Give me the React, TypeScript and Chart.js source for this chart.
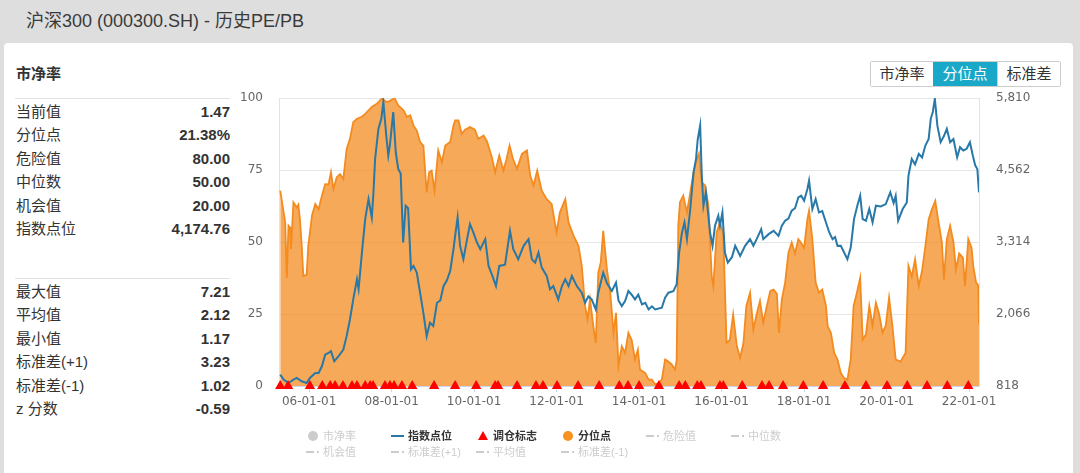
import React, { useEffect, useRef } from 'react';
import { Chart, registerables } from 'chart.js';

Chart.register(...registerables);

// ---------- axis ticks ----------
const xTickYears = [2006, 2008, 2010, 2012, 2014, 2016, 2018, 2020, 2022];
const xTickLabels = ['06-01-01', '08-01-01', '10-01-01', '12-01-01', '14-01-01', '16-01-01', '18-01-01', '20-01-01', '22-01-01'];
const leftTicks = [0, 25, 50, 75, 100];
const rightTicks = [818, 2066, 3314, 4562, 5810];
const xMin = 2005.27;
const xMax = 2022.24;

// ---------- 分位点 (percentile, %) ----------
const pctDates = [
  2005.30, 2005.42, 2005.46, 2005.50, 2005.54, 2005.56, 2005.62, 2005.70, 2005.74, 2005.78, 2005.82, 2005.86, 2005.94, 2005.98,
  2006.07, 2006.15, 2006.23, 2006.31, 2006.39, 2006.47, 2006.53, 2006.59, 2006.67, 2006.75, 2006.83, 2006.91, 2006.99,
  2007.07, 2007.16, 2007.28, 2007.36, 2007.52, 2007.64, 2007.76, 2007.88, 2007.96,
  2008.07, 2008.16, 2008.29, 2008.37, 2008.45, 2008.53, 2008.61, 2008.69, 2008.77, 2008.85, 2008.91, 2008.97,
  2009.04, 2009.13, 2009.22, 2009.30, 2009.42, 2009.50, 2009.54, 2009.62, 2009.70, 2009.78, 2009.90,
  2010.02, 2010.10, 2010.23, 2010.31, 2010.43, 2010.51, 2010.61, 2010.71, 2010.79, 2010.86, 2010.94,
  2011.04, 2011.16, 2011.28, 2011.36, 2011.44, 2011.53, 2011.64, 2011.76, 2011.88,
  2012.00, 2012.08, 2012.21, 2012.29, 2012.41, 2012.53, 2012.61, 2012.69, 2012.75, 2012.81, 2012.89, 2012.95,
  2013.01, 2013.07, 2013.13, 2013.22, 2013.30, 2013.38, 2013.44, 2013.50, 2013.58, 2013.66, 2013.74, 2013.82, 2013.90, 2013.97,
  2014.02, 2014.15, 2014.23, 2014.31, 2014.39, 2014.47, 2014.55, 2014.63, 2014.71, 2014.79, 2014.87, 2014.91, 2014.95, 2014.99,
  2015.07, 2015.16, 2015.24, 2015.32, 2015.40, 2015.45, 2015.52, 2015.60, 2015.68, 2015.76, 2015.80, 2015.88, 2015.96,
  2016.04, 2016.12, 2016.20, 2016.28, 2016.37, 2016.45, 2016.53, 2016.60, 2016.69, 2016.77, 2016.85, 2016.93,
  2017.01, 2017.10, 2017.18, 2017.26, 2017.34, 2017.39, 2017.46, 2017.54, 2017.62, 2017.70, 2017.78, 2017.86, 2017.92,
  2018.00, 2018.08, 2018.12, 2018.20, 2018.28, 2018.36, 2018.44, 2018.53, 2018.57, 2018.65, 2018.73, 2018.81, 2018.89, 2018.97,
  2019.05, 2019.13, 2019.20, 2019.28, 2019.36, 2019.42, 2019.50, 2019.58, 2019.66, 2019.74, 2019.82, 2019.90, 2019.98,
  2020.06, 2020.14, 2020.22, 2020.34, 2020.46, 2020.53, 2020.61, 2020.69, 2020.78, 2020.86, 2020.94,
  2021.02, 2021.10, 2021.18, 2021.26, 2021.34, 2021.39, 2021.46, 2021.54, 2021.62, 2021.68, 2021.76, 2021.85, 2021.90, 2021.98,
  2022.06, 2022.10, 2022.17, 2022.22, 2022.24,
];
const pctValues = [
  67.8, 56.8, 37.6, 55.7, 55, 47.5, 63.8, 62, 63, 57.5, 49, 38.2, 38.7, 48.8,
  59.2, 63.2, 61.4, 66.1, 70.1, 70, 74.2, 68.4, 72.5, 73.6, 71.9, 82.3, 85.8,
  91.6, 92.8, 93.5, 94.5, 96.9, 98, 99.8, 98.6, 99,
  100, 97.4, 95.7, 93.4, 94, 90.5, 88.7, 84.7, 83.5, 67.2, 74.2, 74.8,
  67.8, 81.8, 77.7, 83.5, 84.7, 90.5, 92.2, 92.2, 87.6, 89, 89.9,
  89, 85.8, 87, 85, 79.4, 74.2, 80, 74.8, 79, 83.5, 79,
  75.4, 80.6, 81.8, 73.1, 69.6, 74.8, 67.8, 64.9, 63.2,
  53.3, 60.3, 64.9, 56.8, 52.2, 48.7, 41.7, 27.8, 23.1, 30.1, 20.8, 15,
  39.4, 42.9, 53.9, 40.5, 32.4, 18.5, 25.4, 6.9, 13.8, 11.5, 18.5, 16, 9.2, 12.6,
  5.7, 4.5, 2.2, 2.2, 0.5, 1, 2.2, 9.2, 8.5, 7.5, 5.7, 9, 55.6, 63.8,
  66.1, 60.3, 67.2, 74.2, 78.8, 80.6, 70.7, 69.6, 62.6, 38.2, 34.7, 53.3, 56.8,
  53, 15, 16, 24.8, 13.8, 9.8, 15, 27.8, 32.4, 19.6, 25, 29.5,
  22, 28, 33, 33.5, 32, 18.5, 30.1, 35.9, 46.3, 49.8, 46, 51, 49.8,
  48, 57.9, 60.9, 51, 35.9, 32.4, 33.5, 27.8, 20.8, 18.5, 11.5, 9.2, 4.5, 2.8,
  2.2, 9.2, 27.8, 32.4, 37.6, 16.1, 18, 27.8, 21, 28.9, 25, 18.5, 21,
  30.7, 21, 9.2, 8.5, 11.5, 41.7, 38, 44, 34.7, 40, 48.7,
  57.9, 61.4, 64.3, 56.8, 49.8, 37, 51, 55.6, 50, 40.5, 46, 44.6, 34.7, 51,
  48, 41.7, 35.9, 35, 21.38,
];

// ---------- 指数点位 (index level) ----------
const idxDates = [
  2005.30, 2005.38, 2005.50, 2005.62, 2005.70, 2005.82, 2005.94,
  2006.02, 2006.15, 2006.23, 2006.31, 2006.39, 2006.47, 2006.53, 2006.61, 2006.71, 2006.83, 2006.91, 2006.99,
  2007.07, 2007.16, 2007.20, 2007.28, 2007.36, 2007.44, 2007.52, 2007.56, 2007.60, 2007.68, 2007.75, 2007.80, 2007.87, 2007.92, 2007.96,
  2008.04, 2008.10, 2008.16, 2008.22, 2008.28, 2008.34, 2008.40, 2008.47, 2008.53, 2008.61, 2008.69, 2008.77, 2008.85, 2008.93,
  2009.01, 2009.10, 2009.18, 2009.26, 2009.34, 2009.42, 2009.50, 2009.54, 2009.60, 2009.66, 2009.74, 2009.83, 2009.90, 2009.98,
  2010.07, 2010.15, 2010.27, 2010.35, 2010.43, 2010.53, 2010.61, 2010.75, 2010.87, 2010.95,
  2011.07, 2011.20, 2011.32, 2011.40, 2011.48, 2011.56, 2011.64, 2011.76, 2011.84, 2011.92,
  2012.04, 2012.13, 2012.21, 2012.29, 2012.37, 2012.49, 2012.61, 2012.69, 2012.77, 2012.85, 2012.95,
  2013.01, 2013.13, 2013.22, 2013.34, 2013.44, 2013.50, 2013.58, 2013.66, 2013.74, 2013.82, 2013.90, 2013.98,
  2014.07, 2014.15, 2014.23, 2014.31, 2014.39, 2014.55, 2014.63, 2014.71, 2014.83, 2014.91, 2014.97,
  2015.04, 2015.10, 2015.16, 2015.24, 2015.32, 2015.38, 2015.42, 2015.48, 2015.52, 2015.56, 2015.62, 2015.67, 2015.72, 2015.78, 2015.84, 2015.92, 2015.96,
  2016.02, 2016.08, 2016.15, 2016.25, 2016.33, 2016.45, 2016.57, 2016.69, 2016.77, 2016.85, 2016.96,
  2017.01, 2017.14, 2017.26, 2017.38, 2017.46, 2017.54, 2017.62, 2017.70, 2017.78, 2017.86, 2017.93,
  2018.00, 2018.08, 2018.12, 2018.20, 2018.28, 2018.36, 2018.44, 2018.53, 2018.61, 2018.69, 2018.75, 2018.81, 2018.89, 2018.97,
  2019.05, 2019.13, 2019.21, 2019.29, 2019.36, 2019.42, 2019.50, 2019.58, 2019.66, 2019.74, 2019.86, 2019.98,
  2020.09, 2020.17, 2020.22, 2020.28, 2020.39, 2020.49, 2020.53, 2020.61, 2020.69, 2020.78, 2020.86, 2020.94,
  2021.02, 2021.07, 2021.12, 2021.17, 2021.23, 2021.31, 2021.39, 2021.46, 2021.54, 2021.62, 2021.71, 2021.78, 2021.86, 2021.94,
  2022.02, 2022.09, 2022.15, 2022.20, 2022.24,
];
const idxValues = [
  1015, 928, 870, 928, 957, 900, 870,
  957, 1044, 1044, 1160, 1362, 1390, 1421, 1248, 1330, 1450, 1682, 1971,
  2319, 2667, 2500, 3131, 3711, 4058, 3740, 4174, 4754, 5275, 5449, 5740, 5160, 4812, 5000,
  5567, 4870, 4580, 4500, 3305, 3943, 3900, 2841, 2900, 2783, 2435, 2087, 1682, 1914,
  1860, 2261, 2300, 2552, 2650, 2812, 3188, 3421, 3740, 3247, 3015, 3363, 3624, 3479,
  3305, 3188, 3363, 2899, 2754, 2552, 2899, 2920, 3508, 3188,
  3015, 3247, 3363, 3015, 2957, 3131, 2870, 2725, 2493, 2550,
  2319, 2550, 2667, 2550, 2725, 2550, 2435, 2261, 2370, 2320, 2145,
  2435, 2783, 2600, 2464, 2609, 2300, 2204, 2290, 2464, 2400, 2319, 2400,
  2232, 2260, 2145, 2200, 2145, 2174, 2348, 2435, 2460, 2580, 3131,
  3479, 3653, 3363, 3885, 4522, 4754, 5087, 5334, 4464, 3943, 4174, 3827, 3479, 3247, 3595, 3769, 3600,
  3827, 3131, 2957, 3050, 3247, 3073, 3247, 3363, 3250, 3363, 3537,
  3363, 3450, 3508, 3420, 3595, 3682, 3720, 3856, 3900, 4087, 4116,
  4029, 4232, 4377, 3885, 4058, 3827, 3850, 3653, 3479, 3363, 3400, 3247, 3250, 3131,
  3015, 3218, 3711, 3943, 4116, 3711, 3680, 3885, 3653, 3943, 3930, 3972,
  4174, 3990, 4116, 3682, 3885, 4000, 4464, 4754, 4660, 4841, 4780, 4986,
  5102, 5449, 5567, 5797, 5334, 5044, 5150, 5275, 5044, 5100, 4783, 4957, 4900, 4930,
  5044, 4812, 4638, 4580, 4174.76,
];

// ---------- 调仓标志 (rebalance dates) ----------
const rebalanceDates = [
  2005.30, 2005.49, 2006.02, 2006.32, 2006.51, 2006.63, 2006.82, 2007.04, 2007.16, 2007.36, 2007.48, 2007.55,
  2007.84, 2007.96, 2008.06, 2008.25, 2008.50, 2009.03, 2009.54, 2010.05, 2010.51, 2010.58, 2011.04, 2011.50,
  2011.67, 2012.01, 2012.52, 2013.03, 2013.52, 2013.73, 2014.00, 2014.48, 2014.97, 2015.12, 2015.41, 2015.50,
  2015.96, 2016.04, 2016.50, 2016.98, 2017.15, 2017.49, 2017.98, 2018.46, 2018.99, 2019.50, 2020.01, 2020.50,
  2020.98, 2021.47, 2021.98,
];

// ---------- side panel ----------
const statLabelsTop = ['当前值', '分位点', '危险值', '中位数', '机会值', '指数点位'];
const statValuesTop = ['1.47', '21.38%', '80.00', '50.00', '20.00', '4,174.76'];
const statLabelsBottom = ['最大值', '平均值', '最小值', '标准差(+1)', '标准差(-1)', 'z 分数'];
const statValuesBottom = ['7.21', '2.12', '1.17', '3.23', '1.02', '-0.59'];

const buttonLabels = ['市净率', '分位点', '标准差'];
const activeButton = 1;

const legendLabels = ['市净率', '指数点位', '调仓标志', '分位点', '危险值', '中位数', '机会值', '标准差(+1)', '平均值', '标准差(-1)'];
const legendIcons = ['circle', 'line', 'triangle', 'circle', 'dash', 'dash', 'dash', 'dash', 'dash', 'dash'];
const legendColors = ['#cccccc', '#2878a8', '#ff0000', '#f7931e', '#cccccc', '#cccccc', '#cccccc', '#cccccc', '#cccccc', '#cccccc'];
const legendActive = [false, true, true, true, false, false, false, false, false, false];

const FONT = '"Liberation Sans", Arial, "Noto Sans CJK SC", sans-serif';
const AXIS_FONT = 'DejaVu Sans';

function LegendIcon({ kind, color }: { kind: string; color: string }) {
  if (kind === 'circle') {
    return <div style={{ position: 'absolute', left: -15, top: -5, width: 10, height: 10, borderRadius: 5, background: color }} />;
  }
  if (kind === 'line') {
    return <div style={{ position: 'absolute', left: -17, top: -1, width: 13, height: 2, background: color }} />;
  }
  if (kind === 'triangle') {
    return (
      <div
        style={{
          position: 'absolute', left: -15, top: -5, width: 0, height: 0,
          borderLeft: '5px solid transparent', borderRight: '5px solid transparent', borderBottom: `9px solid ${color}`,
        }}
      />
    );
  }
  return (
    <>
      <div style={{ position: 'absolute', left: -17, top: -1, width: 8, height: 2, background: color }} />
      <div style={{ position: 'absolute', left: -6, top: -1, width: 2, height: 2, background: color }} />
    </>
  );
}

export default function App() {
  const canvasRef = useRef<HTMLCanvasElement | null>(null);

  useEffect(() => {
    if (!canvasRef.current) return;
    const pctData = pctDates.map((d, i) => ({ x: d, y: pctValues[i] }));
    const idxData = idxDates.map((d, i) => ({ x: d, y: idxValues[i] }));
    const rebData = rebalanceDates.map((d) => ({ x: d, y: 0 }));

    const chart = new Chart(canvasRef.current, {
      type: 'line',
      data: {
        datasets: [
          {
            label: '调仓标志',
            data: rebData,
            yAxisID: 'y',
            showLine: false,
            pointStyle: 'triangle',
            pointRadius: 6,
            pointBackgroundColor: '#ff0000',
            pointBorderColor: '#ff0000',
            pointBorderWidth: 0,
            borderColor: '#ff0000',
            backgroundColor: '#ff0000',
            clip: false as any,
            order: 1,
          },
          {
            label: '指数点位',
            data: idxData,
            yAxisID: 'y1',
            borderColor: '#2878a8',
            borderWidth: 2,
            pointRadius: 0,
            tension: 0,
            fill: false,
            order: 2,
          },
          {
            label: '分位点',
            data: pctData,
            yAxisID: 'y',
            borderColor: '#f38b1f',
            borderWidth: 1.8,
            backgroundColor: 'rgba(243,139,31,0.74)',
            pointRadius: 0,
            tension: 0,
            fill: 'origin',
            order: 3,
          },
        ],
      },
      options: {
        animation: false,
        responsive: false,
        maintainAspectRatio: false,
        events: [],
        layout: { padding: { left: 240, right: 21, top: 98, bottom: 57 } },
        plugins: { legend: { display: false }, tooltip: { enabled: false }, title: { display: false } },
        scales: {
          x: {
            type: 'linear',
            min: xMin,
            max: xMax,
            afterBuildTicks: (s: any) => { s.ticks = xTickYears.map((v) => ({ value: v })); },
            afterFit: (s: any) => { s.height = 30; },
            ticks: {
              autoSkip: false,
              maxRotation: 0,
              padding: 3,
              color: '#666666',
              font: { family: AXIS_FONT, size: 12 },
              callback: (_v: any, i: number) => xTickLabels[i],
            },
            grid: { drawOnChartArea: false, color: '#ccd6eb', tickLength: 6 },
            border: { display: true, color: '#ccd6eb' },
          },
          y: {
            type: 'linear',
            position: 'left',
            min: 0,
            max: 100,
            afterBuildTicks: (s: any) => { s.ticks = leftTicks.map((v) => ({ value: v })); },
            afterFit: (s: any) => { s.width = 39; },
            ticks: { padding: 16, color: '#666666', font: { family: AXIS_FONT, size: 12 } },
            grid: { color: '#e6e6e6', drawTicks: false },
            border: { display: true, color: '#dde4ec' },
          },
          y1: {
            type: 'linear',
            position: 'right',
            min: 818,
            max: 5810,
            afterBuildTicks: (s: any) => { s.ticks = rightTicks.map((v) => ({ value: v })); },
            afterFit: (s: any) => { s.width = 80; },
            ticks: {
              padding: 17,
              color: '#666666',
              font: { family: AXIS_FONT, size: 12 },
              callback: (v: any) => Number(v).toLocaleString('en-US'),
            },
            grid: { drawOnChartArea: false, drawTicks: false },
            border: { display: true, color: '#dde4ec' },
          },
        },
      } as any,
    });
    return () => chart.destroy();
  }, []);

  const rowTop = (c: number) => c - 10;
  const topCenters = [111.5, 135, 158.5, 182, 205.5, 229];
  const bottomCenters = [291.5, 315, 338.5, 362, 385.5, 409];

  return (
    <div
      style={{
        position: 'fixed', left: 0, top: 0, width: 1080, height: 473, overflow: 'hidden',
        background: '#dedede', fontFamily: FONT, color: '#333',
      }}
    >
      <div style={{ position: 'absolute', left: 26, top: 9, fontSize: 18, lineHeight: '24px', color: '#3a3a3a', whiteSpace: 'nowrap' }}>
        沪深300 (000300.SH) - 历史PE/PB
      </div>
      <div style={{ position: 'absolute', left: 4, top: 43, width: 1069, height: 460, background: '#ffffff', borderRadius: 4 }} />
      <div style={{ position: 'absolute', left: 16, top: 64, fontSize: 15, lineHeight: '20px', fontWeight: 700, color: '#333' }}>市净率</div>

      <div style={{ position: 'absolute', left: 15, top: 98, width: 215, height: 1, background: '#e3e3e3' }} />
      <div style={{ position: 'absolute', left: 15, top: 278, width: 215, height: 1, background: '#e3e3e3' }} />
      {statLabelsTop.map((l, i) => (
        <div key={'t' + i} style={{ position: 'absolute', left: 16, top: rowTop(topCenters[i]), width: 214, height: 20, lineHeight: '20px', fontSize: 15, display: 'flex', justifyContent: 'space-between' }}>
          <span>{l}</span>
          <span style={{ fontWeight: 700 }}>{statValuesTop[i]}</span>
        </div>
      ))}
      {statLabelsBottom.map((l, i) => (
        <div key={'b' + i} style={{ position: 'absolute', left: 16, top: rowTop(bottomCenters[i]), width: 214, height: 20, lineHeight: '20px', fontSize: 15, display: 'flex', justifyContent: 'space-between' }}>
          <span>{l}</span>
          <span style={{ fontWeight: 700 }}>{statValuesBottom[i]}</span>
        </div>
      ))}

      <div style={{ position: 'absolute', left: 870, top: 61, height: 26, display: 'flex', border: '1px solid #cccccc', borderRadius: 2, boxSizing: 'border-box' }}>
        {buttonLabels.map((b, i) => (
          <div
            key={b}
            style={{
              width: i === 1 ? 64 : 62, height: 24, lineHeight: '24px', textAlign: 'center', fontSize: 15,
              background: i === activeButton ? '#19a8c8' : '#ffffff', color: i === activeButton ? '#ffffff' : '#333',
              borderLeft: i === 2 ? '1px solid #cccccc' : 'none',
            }}
          >
            {b}
          </div>
        ))}
      </div>

      <canvas ref={canvasRef} width={1080} height={473} style={{ position: 'absolute', left: 0, top: 0, width: 1080, height: 473 }} />

      {legendLabels.map((l, i) => {
        const col = i % 6;
        const row = Math.floor(i / 6);
        const x = 323 + col * 85;
        const y = 436 + row * 16;
        return (
          <div key={'lg' + i} style={{ position: 'absolute', left: x, top: y, height: 0 }}>
            <LegendIcon kind={legendIcons[i]} color={legendColors[i]} />
            <div
              style={{
                position: 'absolute', left: 0, top: -8, height: 16, lineHeight: '16px', fontSize: 11, whiteSpace: 'nowrap',
                fontWeight: legendActive[i] ? 700 : 400, color: legendActive[i] ? '#333333' : '#cccccc',
              }}
            >
              {l}
            </div>
          </div>
        );
      })}
    </div>
  );
}
